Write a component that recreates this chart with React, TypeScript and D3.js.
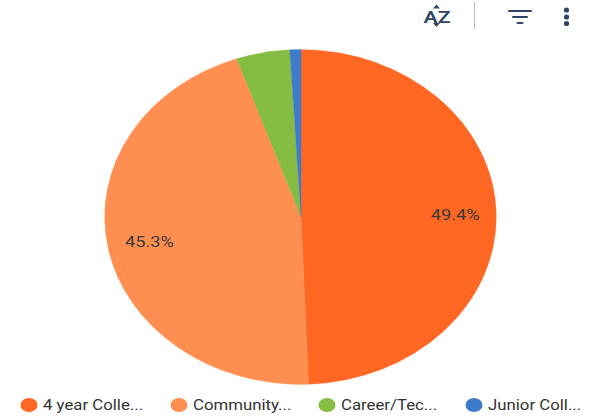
import React from "react";
import * as d3 from "d3";

// Share of students by institution type
const categories = ["4 year Colle...", "Community...", "Career/Tec...", "Junior Coll..."];
const shares = [49.4, 45.3, 4.4, 0.9];
const sliceColors = ["#FF6723", "#FF8F50", "#84BD41", "#3E7CC9"];
const labelledSlices = [0, 1];
const legendDotX = [29, 179, 327, 474];

const WIDTH = 599;
const HEIGHT = 416;
const CX = 301;
const CY = 217;
const RX = 196.5;
const RY = 167.5;
const INK = "#2F4666";

export default function App() {
  const pie = d3.pie<number>().sort(null)(shares);
  const arc = d3.arc<d3.PieArcDatum<number>>().innerRadius(0).outerRadius(1);
  // Labels sit at a fixed fraction of the radius inside their slices
  const labelArc = d3.arc<d3.PieArcDatum<number>>().innerRadius(0.785).outerRadius(0.785);

  return (
    <svg
      width={WIDTH}
      height={HEIGHT}
      viewBox={`0 0 ${WIDTH} ${HEIGHT}`}
      style={{ position: "fixed", left: 0, top: 0, background: "#fff", fontFamily: "Roboto, sans-serif" }}
    >
      <g transform={`translate(${CX},${CY}) scale(${RX},${RY})`}>
        {pie.map((d, i) => (
          <path key={i} d={arc(d) ?? ""} fill={sliceColors[i]} stroke={sliceColors[i]} strokeWidth={0.002} />
        ))}
      </g>

      {labelledSlices.map((i) => {
        const [x, y] = labelArc.centroid(pie[i]);
        return (
          <text
            key={i}
            transform={`translate(${CX + x * RX},${CY + y * RY + 1}) scale(1.3,1)`}
            textAnchor="middle"
            dominantBaseline="central"
            fontSize={14}
            fill="#3a3a3a"
          >
            {shares[i].toFixed(1)}%
          </text>
        );
      })}

      {categories.map((name, i) => (
        <g key={name} transform={`translate(${legendDotX[i]},405)`}>
          <ellipse rx={8.5} ry={7} fill={sliceColors[i]} />
          <text
            x={12.5}
            transform="scale(1.12,1)"
            dominantBaseline="central"
            fontSize={15}
            fill="#333"
          >
            {name}
          </text>
        </g>
      ))}

      {/* Toolbar: sort, divider, filter, overflow menu */}
      <g fill={INK}>
        <text transform="translate(437,23) scale(1.25,1)" textAnchor="middle" fontSize={17} fontWeight={600}>AZ</text>
        <path d="M436.5 4.5l-3.5 4h7zM436.5 27l-3.5-4h7z" />
      </g>
      <line x1={474.5} y1={2} x2={474.5} y2={29} stroke="#B9C4D0" strokeWidth={1.2} />
      <g stroke={INK} strokeWidth={2} strokeLinecap="round">
        <line x1={509} y1={11} x2={531} y2={11} />
        <line x1={513} y1={17} x2={527} y2={17} />
        <line x1={517.5} y1={23} x2={522.5} y2={23} />
      </g>
      <g fill={INK}>
        {[10, 17, 23.5].map((y) => (
          <circle key={y} cx={566.5} cy={y} r={2.6} />
        ))}
      </g>
    </svg>
  );
}
